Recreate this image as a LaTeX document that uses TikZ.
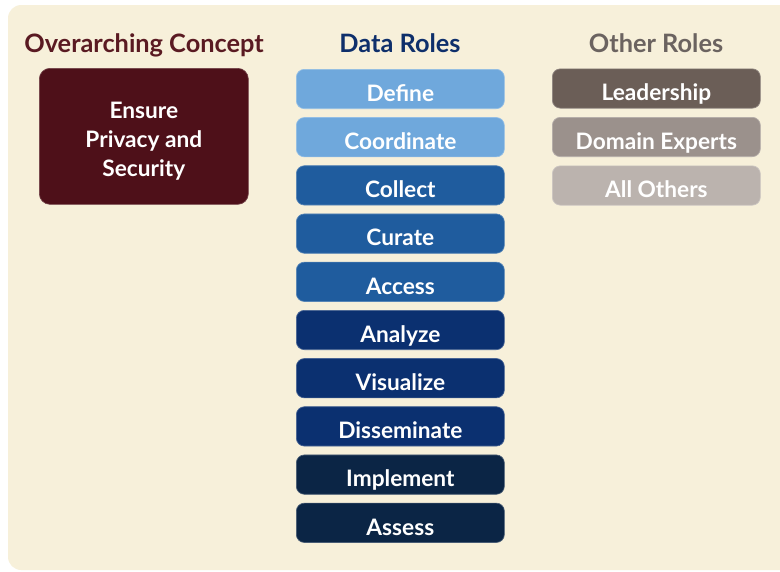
\documentclass[tikz,border=0pt]{standalone}
\usepackage{fontspec}
\setmainfont{Lato}
\definecolor{bgc}{HTML}{F7F0DA}
\definecolor{maroon}{HTML}{4E1019}
\definecolor{maroonh}{HTML}{5A1A22}
\definecolor{navyh}{HTML}{0E2F6B}
\definecolor{greyh}{HTML}{6B6360}
\definecolor{bl1}{HTML}{6FA8DC}
\definecolor{bl2}{HTML}{1F5C9E}
\definecolor{bl3}{HTML}{0B3070}
\definecolor{bl4}{HTML}{0B2545}
\definecolor{gr1}{HTML}{6B5E57}
\definecolor{gr2}{HTML}{9B918C}
\definecolor{gr3}{HTML}{BBB3AE}
\tikzset{
  heading/.style={font=\fontsize{19}{21}\selectfont\bfseries, inner sep=0pt, anchor=base},
  rolebox/.style={fill=#1, draw=#1!75!white, line width=0.5pt, rounded corners=6pt,
    minimum width=156pt, minimum height=29.5pt, text height=18.5pt, text depth=0pt,
    text=white, font=\fontsize{17}{19}\selectfont\bfseries, inner sep=0pt, anchor=north west},
  otherbox/.style={rolebox=#1},
}
\begin{document}
\begin{tikzpicture}[x=0.75pt,y=-0.75pt]
\useasboundingbox (0,0) rectangle (780,571);
\fill[white] (0,0) rectangle (780,571);
\fill[bgc, rounded corners=10pt] (8,5) rectangle (800,570);
% headings
\node[heading, text=maroonh] (h1) at (144,52.5) {Overarching Concept};
\node[heading, text=navyh] (h2) at (400,52.5) {Data Roles};
\node[heading, text=greyh] (h3) at (656,52.5) {Other Roles};
% overarching
\node[fill=maroon, draw=maroon!80!white, line width=0.5pt, rounded corners=8pt,
  minimum width=156.75pt, minimum height=102pt,
  text=white, font=\fontsize{17}{21.75}\selectfont\bfseries, align=center, inner sep=0pt,
  anchor=north west] (ov) at (39,68) {\raisebox{-3.4pt}[\height][\depth]{\parbox{150pt}{\centering Ensure\\Privacy and\\Security}}};
% data roles
\node[rolebox=bl1] (r1) at (296,69) {Define};
\node[rolebox=bl1] (r2) at (296,117.2) {Coordinate};
\node[rolebox=bl2] (r3) at (296,165.4) {Collect};
\node[rolebox=bl2] (r4) at (296,213.6) {Curate};
\node[rolebox=bl2] (r5) at (296,261.8) {Access};
\node[rolebox=bl3] (r6) at (296,310) {Analyze};
\node[rolebox=bl3] (r7) at (296,358.2) {Visualize};
\node[rolebox=bl3] (r8) at (296,406.4) {Disseminate};
\node[rolebox=bl4] (r9) at (296,454.6) {Implement};
\node[rolebox=bl4] (r10) at (296,502.8) {Assess};
% other roles
\node[otherbox=gr1] (o1) at (552,68.5) {Leadership};
\node[otherbox=gr2] (o2) at (552,117) {Domain Experts};
\node[otherbox=gr3] (o3) at (552,165.5) {All Others};
\end{tikzpicture}
\end{document}
